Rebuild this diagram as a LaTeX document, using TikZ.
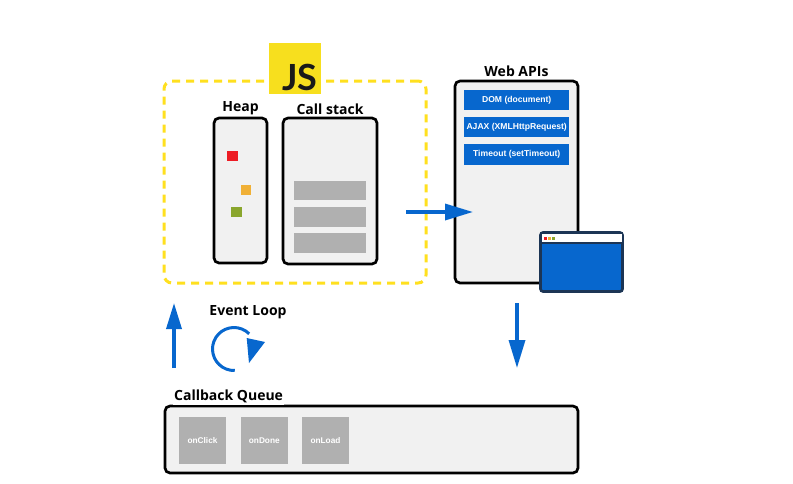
\documentclass[tikz,border=0pt]{standalone}
\usepackage{fontspec}
\setmainfont{Open Sans}
\newfontfamily\smallfont{Liberation Sans}
\newfontfamily\logofont{Lato}
\usetikzlibrary{arrows.meta}
\definecolor{jsyellow}{HTML}{F7DF1E}
\definecolor{dashyellow}{HTML}{FFE01F}
\definecolor{apiblue}{HTML}{0767CE}
\definecolor{panel}{HTML}{F1F1F1}
\definecolor{slot}{HTML}{B0B0B0}
\definecolor{navy}{HTML}{1C3555}
\definecolor{chipred}{HTML}{ED1C24}
\definecolor{chiporange}{HTML}{F0B036}
\definecolor{chipolive}{HTML}{8AA62D}
\tikzset{
  panelbox/.style={draw=black,fill=panel,line width=2.7pt,rounded corners=5pt,inner sep=0pt,outer sep=0pt},
  title/.style={font=\bfseries\fontsize{14}{16}\selectfont,text=black,fill=white,inner sep=1pt},
  slotbox/.style={fill=slot,inner sep=0pt,outer sep=0pt},
  apibox/.style={fill=apiblue,text=white,font=\smallfont\bfseries\fontsize{8.6}{10}\selectfont,inner sep=0pt,outer sep=0pt,minimum width=105.5pt,minimum height=20.5pt},
  cbtext/.style={slotbox,text=white,font=\smallfont\bfseries\fontsize{8.3}{10}\selectfont,minimum width=47pt,minimum height=47pt},
  chip/.style={inner sep=0pt,outer sep=0pt},
  flow/.style={draw=apiblue,line width=3.4pt,-{Triangle[length=28pt,width=16pt]}},
}
\begin{document}
\begin{tikzpicture}[x=1pt,y=-1pt]
\useasboundingbox (0,0) rectangle (793,483);
\fill[white] (0,0) rectangle (793,483);
% JS engine frame
\node[draw=dashyellow,line width=3pt,dash pattern=on 8pt off 6pt,rounded corners=8pt,inner sep=0pt,outer sep=0pt,minimum width=262pt,minimum height=202pt] (engine) at (295,182) {};
\node[fill=jsyellow,inner sep=0pt,outer sep=0pt,minimum width=52pt,minimum height=51pt] (jslogo) at (295,68.5) {};
\node[font=\logofont\bfseries\fontsize{36}{38}\selectfont,text=black!90,inner sep=0pt,anchor=base] (jstext) at (300,90) {JS};
% Heap
\node[panelbox,minimum width=53pt,minimum height=145pt] (heap) at (240.5,190.5) {};
\node[title] (heaplabel) at (240.5,108.5) {Heap};
\node[chip,fill=chipred,minimum width=11pt,minimum height=10.5pt] (red) at (232,156) {};
\node[chip,fill=chiporange,minimum width=10pt,minimum height=10pt] (orange) at (246,190) {};
\node[chip,fill=chipolive,minimum width=10.5pt,minimum height=10pt] (olive) at (236.5,212) {};
% Call stack
\node[panelbox,minimum width=94pt,minimum height=146pt] (stack) at (330,191) {};
\node[title] (stacklabel) at (330,109) {Call stack};
\node[slotbox,minimum width=72.5pt,minimum height=19.5pt] (s1) at (330.2,190.5) {};
\node[slotbox,minimum width=72.5pt,minimum height=19.5pt] (s2) at (330.2,216.8) {};
\node[slotbox,minimum width=72.5pt,minimum height=19.5pt] (s3) at (330.2,243) {};
% Web APIs
\node[panelbox,minimum width=123pt,minimum height=202pt] (web) at (516.5,182) {};
\node[title,inner ysep=0.5pt] (weblabel) at (516.5,71) {Web APIs};
\node[apibox] (dom) at (516.7,100) {DOM (document)};
\node[apibox] (ajax) at (516.7,127.2) {AJAX (XMLHttpRequest)};
\node[apibox] (timeout) at (516.7,154.5) {Timeout (setTimeout)};
% Arrow into Web APIs
\coordinate (a1) at (406,212);
\coordinate (a2) at (473,212);
\draw[flow] (a1) -- (a2);
% Browser window
\node[draw=navy,fill=apiblue,line width=2.6pt,rounded corners=2.5pt,inner sep=0pt,outer sep=0pt,minimum width=82pt,minimum height=59pt] (window) at (581.5,262) {};
\fill[white] (541.5,233.5) rectangle (622,242.5);
\draw[navy,line width=1.2pt] (window.west |- 0,243) -- (window.east |- 0,243);
\node[chip,fill=chipred,minimum size=3pt] (d1) at (545.5,238) {};
\node[chip,fill=chiporange,minimum size=3pt] (d2) at (549.5,238) {};
\node[chip,fill=chipolive,minimum size=3pt] (d3) at (553,238) {};
% Event loop side
\coordinate (u1) at (174,368);
\coordinate (u2) at (174,303);
\draw[flow,-{Triangle[length=26pt,width=15pt]}] (u1) -- (u2);
\coordinate (w1) at (517,303);
\coordinate (w2) at (517,368);
\draw[flow,-{Triangle[length=28pt,width=16pt]}] (w1) -- (w2);
\node[title,fill=none] (looplabel) at (248,312) {Event Loop};
\coordinate (loopc) at (234,349);
\draw[apiblue,line width=3pt] (loopc) ++(88:21.5) arc[start angle=88,end angle=315,radius=21.5];
\fill[apiblue] (246.7,338) -- (265,342) -- (249,363) -- cycle;
% Callback queue
\node[panelbox,minimum width=413pt,minimum height=67pt] (queue) at (371.5,439.5) {};
\node[title,anchor=west,inner ysep=2pt] (queuelabel) at (173,396) {Callback Queue};
\node[cbtext] (q1) at (202.5,440.5) {onClick};
\node[cbtext] (q2) at (264.3,440.5) {onDone};
\node[cbtext] (q3) at (325.5,440.5) {onLoad};
\end{tikzpicture}
\end{document}
